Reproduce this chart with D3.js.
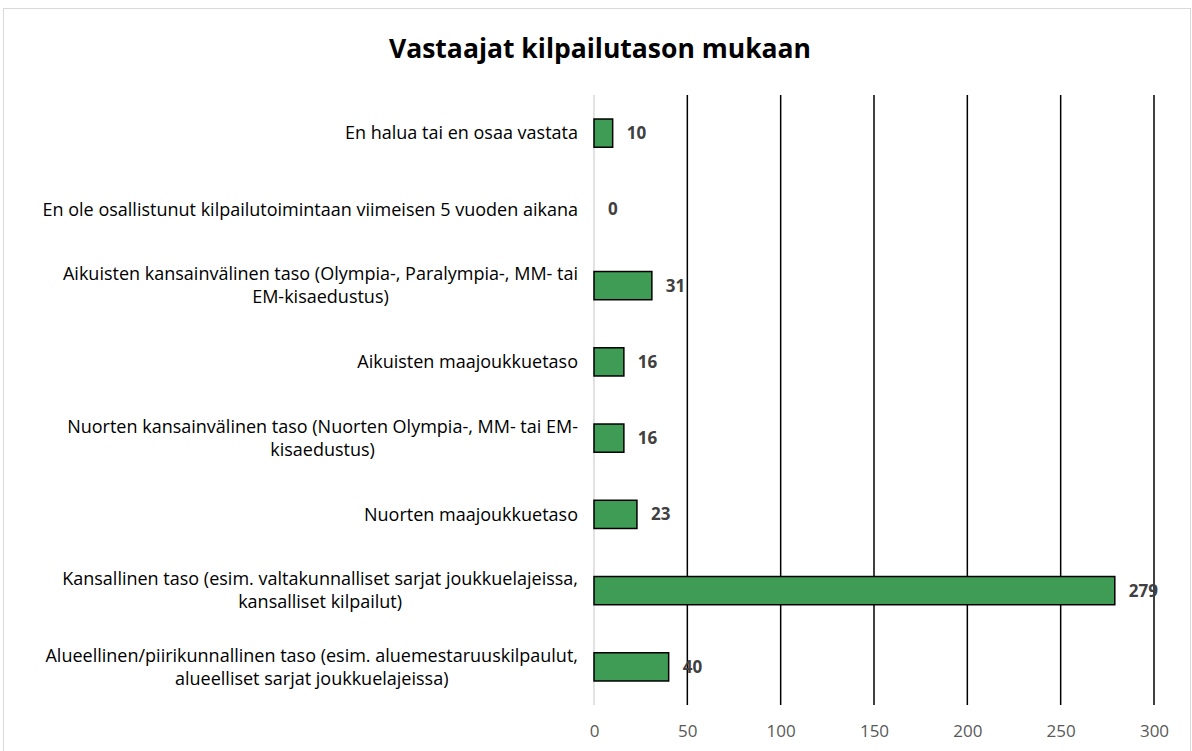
<!DOCTYPE html>
<html>
<head>
<meta charset="utf-8">
<script src="https://cdn.jsdelivr.net/npm/d3@7"></script>
<style>
	body { margin: 0; background: #fff; }
	svg { display: block; font-family: "Open Sans", sans-serif; }
</style>
</head>
<body>
<div id="chart"></div>
<script>
let categories = [
	"En halua tai en osaa vastata",
	"En ole osallistunut kilpailutoimintaan viimeisen 5 vuoden aikana",
	"Aikuisten kansainvälinen taso (Olympia-, Paralympia-, MM- tai\nEM-kisaedustus)",
	"Aikuisten maajoukkuetaso",
	"Nuorten kansainvälinen taso (Nuorten Olympia-, MM- tai EM-\nkisaedustus)",
	"Nuorten maajoukkuetaso",
	"Kansallinen taso (esim. valtakunnalliset sarjat joukkuelajeissa,\nkansalliset kilpailut)",
	"Alueellinen/piirikunnallinen taso (esim. aluemestaruuskilpaulut,\nalueelliset sarjat joukkuelajeissa)"
]
let values = [10, 0, 31, 16, 16, 23, 279, 40]
let xTicks = [0, 50, 100, 150, 200, 250, 300]
let title = "Vastaajat kilpailutason mukaan"

let width = 1192
let height = 751
let margin = {top: 95, right: 38, bottom: 46, left: 594}

let svg = d3.select("#chart")
	.append("svg")
	.attr("width", width)
	.attr("height", height)

// chart frame
svg.append("rect")
	.attr("x", 3.5)
	.attr("y", 8.5)
	.attr("width", width - 5)
	.attr("height", height - 8)
	.attr("fill", "none")
	.attr("stroke", "#d9d9d9")

svg.append("text")
	.attr("x", 600)
	.attr("y", 58)
	.attr("text-anchor", "middle")
	.attr("font-size", 26.5)
	.attr("font-weight", "bold")
	.attr("fill", "#000")
	.text(title)

let x = d3.scaleLinear()
	.domain([0, 300])
	.range([margin.left, width - margin.right])

let y = d3.scaleBand()
	.domain(categories)
	.range([margin.top, height - margin.bottom])
	.paddingInner(0.63)
	.paddingOuter(0.315)

// gridlines
svg.selectAll("line.grid")
	.data(xTicks.slice(1))
	.enter()
	.append("line")
	.attr("class", "grid")
	.attr("x1", d => x(d))
	.attr("x2", d => x(d))
	.attr("y1", margin.top)
	.attr("y2", height - margin.bottom)
	.attr("stroke", "#000")
	.attr("stroke-width", 1.5)

// zero axis line
svg.append("line")
	.attr("x1", x(0))
	.attr("x2", x(0))
	.attr("y1", margin.top)
	.attr("y2", height - margin.bottom)
	.attr("stroke", "#d9d9d9")
	.attr("stroke-width", 1.5)

// x tick labels
let xAxis = svg.append("g")
	.attr("transform", "translate(0," + (height - margin.bottom) + ")")
	.call(d3.axisBottom(x).tickValues(xTicks).tickSize(0).tickPadding(20))
xAxis.select(".domain").remove()
xAxis.selectAll("text")
	.attr("font-family", "'Open Sans', sans-serif")
	.attr("font-size", 17)
	.attr("fill", "#595959")

// bars
svg.selectAll("rect.bar")
	.data(values)
	.enter()
	.append("rect")
	.attr("class", "bar")
	.attr("x", x(0))
	.attr("y", (d, i) => y(categories[i]))
	.attr("width", d => x(d) - x(0))
	.attr("height", y.bandwidth())
	.attr("fill", "#3f9c55")
	.attr("stroke", "#000")
	.attr("stroke-width", d => d > 0 ? 1.5 : 0)

// value labels
svg.selectAll("text.val")
	.data(values)
	.enter()
	.append("text")
	.attr("class", "val")
	.attr("x", d => x(d) + 14)
	.attr("y", (d, i) => y(categories[i]) + y.bandwidth() / 2)
	.attr("dy", "0.35em")
	.attr("font-size", 17)
	.attr("font-weight", "bold")
	.attr("fill", "#404040")
	.text(d => d)

// category labels, lines centred on each other, block right aligned
let labelRight = 578
let lineHeight = 23
categories.forEach(function(c) {
	let lines = c.split("\n")
	let g = svg.append("text")
		.attr("font-size", 18)
		.attr("fill", "#000")
	let tspans = lines.map(l => g.append("tspan").text(l))
	let maxW = d3.max(tspans, t => t.node().getComputedTextLength())
	let cy = y(c) + y.bandwidth() / 2
	let y0 = cy - (lines.length - 1) * lineHeight / 2
	tspans.forEach(function(t, i) {
		t.attr("x", labelRight - maxW / 2)
			.attr("y", y0 + i * lineHeight)
			.attr("dy", "0.35em")
			.attr("text-anchor", "middle")
	})
})
</script>
</body>
</html>
